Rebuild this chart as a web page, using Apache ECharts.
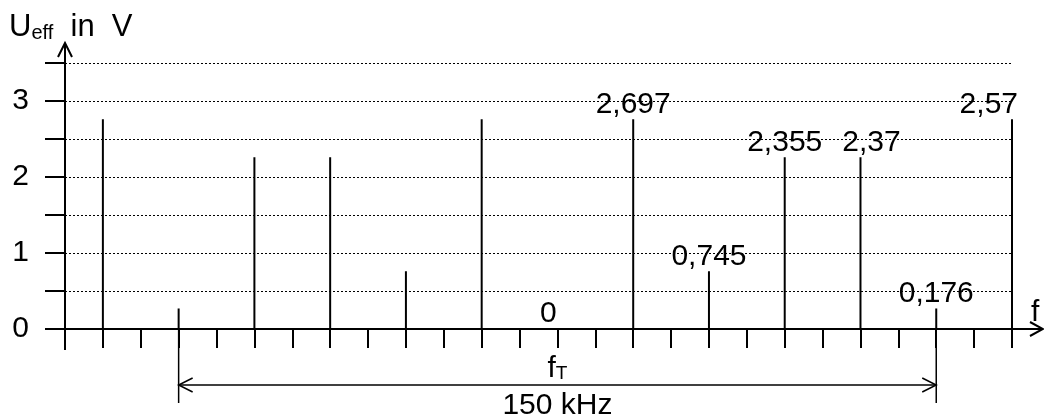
<!DOCTYPE html>
<html>
<head>
<meta charset="utf-8">
<script src="https://cdn.jsdelivr.net/npm/echarts@6/dist/echarts.min.js"></script>
<style>
  html, body { margin: 0; padding: 0; background: #fff; }
  #chart { width: 1044px; height: 419px; }
</style>
</head>
<body>
<div id="chart"></div>
<script>
// spectral lines: position on the f axis (tick index) and drawn height in V
const positions = [1, 3, 5, 7, 9, 11, 13, 15, 17, 19, 21, 23, 25];
const heights = [2.76, 0.27, 2.26, 2.26, 0.76, 2.76, 0, 2.76, 0.76, 2.26, 2.26, 0.27, 2.76];
const valueLabels = ['', '', '', '', '', '', '0', '2,697', '0,745', '2,355', '2,37', '0,176', '2,57'];
const yTickLabels = [0, 1, 2, 3];
const bandEdges = [3, 23];
const bandText = '150 kHz';

const FONT = 'Liberation Sans, Arial, sans-serif';

// small nudges so labels sit like in the original sheet
const labelTweak = {
  '0': { offset: [-9, 0] },
  '2,37': { offset: [11, 0] },
  '2,57': { align: 'right', offset: [6, 0] }
};

const lineData = positions.map(function (p, i) {
  const txt = valueLabels[i];
  const lbl = Object.assign({ show: txt !== '', formatter: txt }, labelTweak[txt] || {});
  return { value: [p, heights[i]], label: lbl };
});

const chart = echarts.init(document.getElementById('chart'));

chart.setOption({
  animation: false,
  grid: { left: 65, right: 32, top: 63, bottom: 90 },
  xAxis: {
    type: 'value',
    min: 0,
    max: 25,
    interval: 1,
    axisLine: { show: false },
    axisTick: { show: true, length: 19, lineStyle: { color: '#000', width: 2 } },
    axisLabel: { show: false },
    splitLine: { show: false }
  },
  yAxis: {
    type: 'value',
    min: 0,
    max: 3.5,
    interval: 0.5,
    axisLine: { show: false },
    axisTick: { show: true, length: 20, lineStyle: { color: '#000', width: 2 } },
    axisLabel: {
      margin: 36,
      color: '#000',
      fontFamily: FONT,
      fontSize: 30,
      formatter: function (v) { return yTickLabels.indexOf(v) >= 0 ? String(v) : ''; }
    },
    splitLine: { show: true, lineStyle: { color: '#000', width: 1, type: [2, 2] } }
  },
  series: [{
    type: 'bar',
    barWidth: 2,
    itemStyle: { color: '#000' },
    label: {
      position: 'top',
      distance: 0,
      color: '#000',
      fontFamily: FONT,
      fontSize: 30
    },
    data: lineData
  }]
});

// axes with arrow heads and the f_T bandwidth dimension
const o = chart.convertToPixel({ gridIndex: 0 }, [0, 0]);
const x0 = o[0], y0 = o[1];
const xa = chart.convertToPixel({ gridIndex: 0 }, [bandEdges[0], 0])[0];
const xb = chart.convertToPixel({ gridIndex: 0 }, [bandEdges[1], 0])[0];
const yTop = 43, xRight = 1043, dimY = y0 + 56;
const stroke = { stroke: '#000', lineWidth: 2, fill: null };
const thin = { stroke: '#000', lineWidth: 1.5, fill: null };

chart.setOption({
  graphic: [
    { type: 'line', shape: { x1: x0, y1: y0 + 21, x2: x0, y2: yTop }, style: stroke },
    { type: 'polyline', shape: { points: [[x0 - 7, yTop + 14], [x0, yTop], [x0 + 7, yTop + 14]] }, style: stroke },
    { type: 'line', shape: { x1: x0 - 20, y1: y0, x2: xRight, y2: y0 }, style: stroke },
    { type: 'polyline', shape: { points: [[xRight - 13, y0 - 7], [xRight, y0], [xRight - 13, y0 + 7]] }, style: stroke },
    { type: 'line', shape: { x1: xa, y1: y0, x2: xa, y2: y0 + 74 }, style: thin },
    { type: 'line', shape: { x1: xb, y1: y0, x2: xb, y2: y0 + 74 }, style: thin },
    { type: 'line', shape: { x1: xa, y1: dimY, x2: xb, y2: dimY }, style: thin },
    { type: 'polyline', shape: { points: [[xa + 14, dimY - 7], [xa, dimY], [xa + 14, dimY + 7]] }, style: thin },
    { type: 'polyline', shape: { points: [[xb - 14, dimY - 7], [xb, dimY], [xb - 14, dimY + 7]] }, style: thin },
    {
      type: 'text', x: (xa + xb) / 2, y: y0 + 25,
      style: {
        text: '{m|f}{s|T}', align: 'center', fill: '#000',
        rich: {
          m: { fontFamily: FONT, fontSize: 30, fill: '#000' },
          s: { fontFamily: FONT, fontSize: 19, fill: '#000', padding: [10, 0, 0, 0] }
        }
      }
    },
    {
      type: 'text', x: (xa + xb) / 2, y: y0 + 62,
      style: { text: bandText, align: 'center', fill: '#000', font: '30px ' + FONT }
    },
    {
      type: 'text', x: 1031, y: y0 - 31,
      style: { text: 'f', fill: '#000', font: '30px ' + FONT }
    },
    {
      type: 'text', x: 9, y: 11,
      style: {
        text: '{m|U}{s|eff}{m|  in  V}', fill: '#000',
        rich: {
          m: { fontFamily: FONT, fontSize: 31, fill: '#000' },
          s: { fontFamily: FONT, fontSize: 20, fill: '#000', padding: [12, 0, 0, 0] }
        }
      }
    }
  ]
});
</script>
</body>
</html>
